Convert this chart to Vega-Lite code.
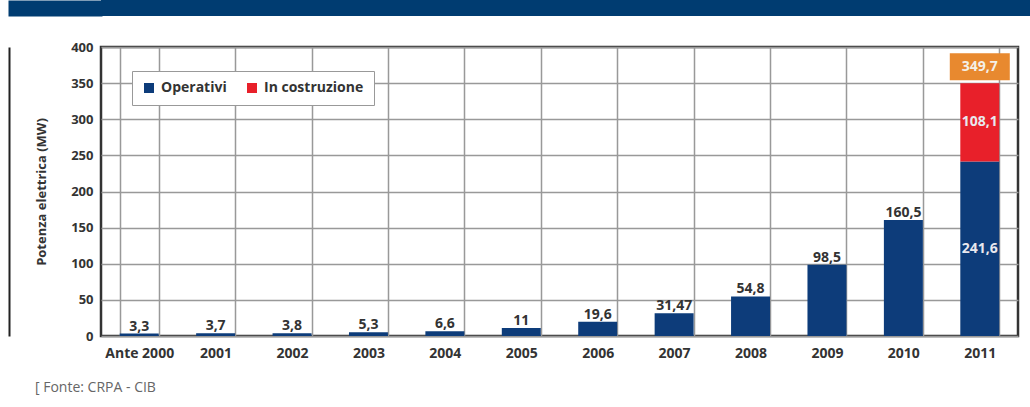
{
  "$schema": "https://vega.github.io/schema/vega-lite/v6.json",
  "padding": {"left": 7, "top": 0, "right": 0, "bottom": 0},
  "background": "white",
  "config": {"font": "Open Sans"},
  "datasets": {
    "potenza": [
      {"anno": "Ante 2000", "stato": "Operativi", "mw": 3.3, "etichetta": "3,3"},
      {"anno": "2001", "stato": "Operativi", "mw": 3.7, "etichetta": "3,7"},
      {"anno": "2002", "stato": "Operativi", "mw": 3.8, "etichetta": "3,8"},
      {"anno": "2003", "stato": "Operativi", "mw": 5.3, "etichetta": "5,3"},
      {"anno": "2004", "stato": "Operativi", "mw": 6.6, "etichetta": "6,6"},
      {"anno": "2005", "stato": "Operativi", "mw": 11, "etichetta": "11"},
      {"anno": "2006", "stato": "Operativi", "mw": 19.6, "etichetta": "19,6"},
      {"anno": "2007", "stato": "Operativi", "mw": 31.47, "etichetta": "31,47"},
      {"anno": "2008", "stato": "Operativi", "mw": 54.8, "etichetta": "54,8"},
      {"anno": "2009", "stato": "Operativi", "mw": 98.5, "etichetta": "98,5"},
      {"anno": "2010", "stato": "Operativi", "mw": 160.5, "etichetta": "160,5"},
      {"anno": "2011", "stato": "Operativi", "mw": 241.6, "etichetta": "241,6"},
      {"anno": "2011", "stato": "In costruzione", "mw": 108.1, "etichetta": "108,1"}
    ],
    "totale": [
      {"anno": "2011", "mw": 349.7, "etichetta": "349,7"}
    ]
  },
  "columns": 1,
  "spacing": 23,
  "concat": [
    {
      "width": 930,
      "height": 16,
      "view": {"fill": "#003c71", "stroke": null},
      "data": {"values": [{"t": ""}]},
      "mark": {"type": "text"},
      "encoding": {
        "text": {"field": "t"},
        "y": {
          "field": "t",
          "type": "nominal",
          "axis": {
            "title": null,
            "labels": false,
            "ticks": false,
            "grid": false,
            "domain": true,
            "domainColor": "#003c71",
            "domainWidth": 94,
            "domainCap": "butt",
            "offset": 46
          }
        }
      }
    },
    {
      "width": 917,
      "height": 289,
      "view": {"stroke": "#333333", "strokeWidth": 2.5, "fill": "white"},
      "title": {
        "text": "[ Fonte: CRPA - CIB",
        "orient": "bottom",
        "anchor": "start",
        "frame": "group",
        "dx": -66,
        "fontSize": 14,
        "fontWeight": "normal",
        "color": "#666666",
        "offset": 21
      },
      "resolve": {"axis": {"y": "independent"}},
      "encoding": {
        "x": {
          "field": "anno",
          "type": "nominal",
          "sort": null,
          "scale": {"paddingInner": 0.49, "paddingOuter": 0.245},
          "axis": {
            "title": null,
            "labelAngle": 0,
            "labelFontSize": 14,
            "labelFontWeight": "bold",
            "labelColor": "#333333",
            "labelPadding": 10,
            "ticks": false,
            "domain": false,
            "grid": true,
            "tickBand": "extent",
            "gridColor": "#999999",
            "gridWidth": 1.5
          }
        }
      },
      "layer": [
        {
          "data": {"name": "potenza"},
          "mark": {"type": "bar"},
          "encoding": {
            "y": {
              "field": "mw",
              "type": "quantitative",
              "stack": "zero",
              "scale": {"domain": [0, 400], "nice": false},
              "axis": {
                "orient": "left",
                "values": [0, 50, 100, 150, 200, 250, 300, 350, 400],
                "labelOverlap": false,
                "title": "Potenza elettrica (MW)",
                "titleFontSize": 13,
                "titleFontWeight": "bold",
                "titleColor": "#333333",
                "titlePadding": 22,
                "labelFontSize": 13,
                "labelFontWeight": "bold",
                "labelColor": "#333333",
                "labelPadding": 8,
                "ticks": false,
                "domain": false,
                "grid": true,
                "gridColor": "#999999",
                "gridWidth": 1.5
              }
            },
            "color": {
              "field": "stato",
              "type": "nominal",
              "scale": {"domain": ["Operativi", "In costruzione"], "range": ["#0d3c7a", "#e8202a"]},
              "legend": {
                "title": null,
                "orient": "none",
                "legendX": 31,
                "legendY": 71,
                "direction": "horizontal",
                "fillColor": "white",
                "strokeColor": "#999999",
                "padding": 10,
                "symbolType": "square",
                "symbolSize": 100,
                "symbolStrokeWidth": 0,
                "labelFontSize": 14,
                "labelFontWeight": "bold",
                "labelColor": "#333333",
                "labelOffset": 5,
                "columnPadding": 18
              }
            },
            "order": {"field": "stato", "sort": "descending"}
          }
        },
        {
          "data": {"name": "potenza"},
          "transform": [{"filter": "datum.anno !== '2011'"}],
          "mark": {"type": "text", "baseline": "alphabetic", "dy": -3, "fontSize": 14, "fontWeight": "bold", "color": "#333333"},
          "encoding": {
            "y": {"field": "mw", "type": "quantitative", "axis": null},
            "text": {"field": "etichetta"}
          }
        },
        {
          "data": {"name": "potenza"},
          "transform": [
            {"filter": "datum.anno === '2011'"},
            {"stack": "mw", "groupby": ["anno"], "sort": [{"field": "stato", "order": "descending"}], "as": ["y0", "y1"]},
            {"calculate": "(datum.y0 + datum.y1) / 2", "as": "ymid"}
          ],
          "mark": {"type": "text", "baseline": "middle", "fontSize": 14, "fontWeight": "bold", "color": "#e8e8ee"},
          "encoding": {
            "y": {"field": "ymid", "type": "quantitative", "axis": null},
            "text": {"field": "etichetta"}
          }
        },
        {
          "data": {"name": "totale"},
          "mark": {"type": "point", "filled": true, "shape": "M-1,-1H1V-0.1H-1Z", "size": 3600, "color": "#e8892f", "opacity": 1, "strokeWidth": 0},
          "encoding": {
            "y": {
              "field": "mw",
              "type": "quantitative",
              "axis": {
                "orient": "left",
                "offset": 92,
                "title": null,
                "labels": false,
                "ticks": false,
                "grid": false,
                "domain": true,
                "domainColor": "#222222",
                "domainWidth": 2
              }
            }
          }
        },
        {
          "data": {"name": "totale"},
          "mark": {"type": "text", "baseline": "middle", "dy": -16, "fontSize": 14, "fontWeight": "bold", "color": "#f4f0e8"},
          "encoding": {
            "y": {"field": "mw", "type": "quantitative", "axis": null},
            "text": {"field": "etichetta"}
          }
        }
      ]
    }
  ]
}
